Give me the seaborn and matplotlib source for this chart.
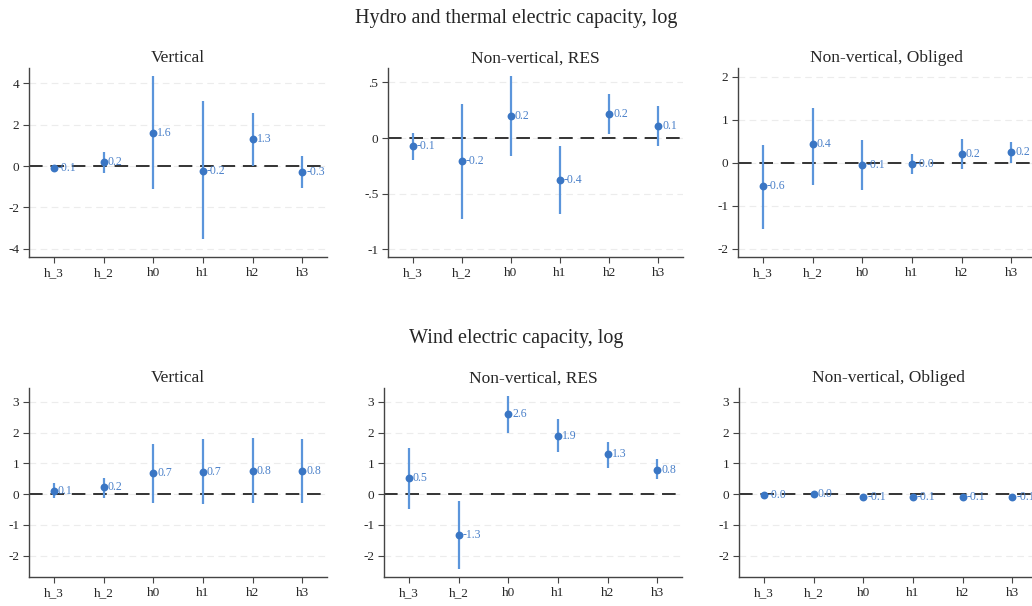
import matplotlib
matplotlib.use("Agg")
import matplotlib.pyplot as plt
import seaborn as sns
import pandas as pd

sns.set_theme(style="white")
plt.rcParams['font.family'] = ['Liberation Serif', 'DejaVu Serif']

# horizons on the x axis
horizons = ["h_3", "h_2", "h0", "h1", "h2", "h3"]

# Hydro and thermal electric capacity, log
hydro_vert_coef = [-0.10, 0.20, 1.62, -0.22, 1.30, -0.29]
hydro_vert_lo = [-0.25, -0.32, -1.10, -3.55, 0.02, -1.05]
hydro_vert_hi = [0.05, 0.69, 4.35, 3.13, 2.58, 0.50]
hydro_vert_lbl = ["-0.1", "0.2", "1.6", "-0.2", "1.3", "-0.3"]

hydro_res_coef = [-0.075, -0.21, 0.198, -0.374, 0.216, 0.108]
hydro_res_lo = [-0.195, -0.725, -0.159, -0.68, 0.033, -0.075]
hydro_res_hi = [0.045, 0.305, 0.554, -0.069, 0.398, 0.287]
hydro_res_lbl = ["-0.1", "-0.2", "0.2", "-0.4", "0.2", "0.1"]

hydro_obl_coef = [-0.55, 0.44, -0.05, -0.03, 0.21, 0.24]
hydro_obl_lo = [-1.53, -0.51, -0.64, -0.27, -0.15, 0.0]
hydro_obl_hi = [0.42, 1.27, 0.53, 0.21, 0.56, 0.49]
hydro_obl_lbl = ["-0.6", "0.4", "-0.1", "-0.0", "0.2", "0.2"]

# Wind electric capacity, log
wind_vert_coef = [0.12, 0.22, 0.68, 0.73, 0.76, 0.76]
wind_vert_lo = [-0.12, -0.12, -0.28, -0.31, -0.30, -0.28]
wind_vert_hi = [0.35, 0.53, 1.64, 1.78, 1.82, 1.78]
wind_vert_lbl = ["0.1", "0.2", "0.7", "0.7", "0.8", "0.8"]

wind_res_coef = [0.51, -1.32, 2.59, 1.90, 1.29, 0.80]
wind_res_lo = [-0.49, -2.43, 2.00, 1.37, 0.86, 0.48]
wind_res_hi = [1.51, -0.22, 3.19, 2.43, 1.71, 1.13]
wind_res_lbl = ["0.5", "-1.3", "2.6", "1.9", "1.3", "0.8"]

wind_obl_coef = [-0.01, 0.02, -0.10, -0.10, -0.09, -0.09]
wind_obl_lo = [-0.04, -0.01, -0.15, -0.15, -0.14, -0.13]
wind_obl_hi = [0.02, 0.05, -0.05, -0.05, -0.04, -0.05]
wind_obl_lbl = ["-0.0", "0.0", "-0.1", "-0.1", "-0.1", "-0.1"]

point_color = '#3a76c4'
ci_color = '#5b95db'
W, H = 1032, 606


def draw_panel(fig, rect, title, coef, lo, hi, lbl, yticks, ytlabels, ylim):
    ax = fig.add_axes(rect)
    df = pd.DataFrame({"pos": range(len(horizons)), "coef": coef, "lo": lo, "hi": hi})
    for yt in yticks:
        ax.axhline(yt, color='#ececec', lw=0.8, ls=(0, (6, 4)), zorder=0)
    ax.axhline(0, color='#333333', lw=1.4, ls=(0, (7, 4)), zorder=1)
    ax.vlines(df["pos"], df["lo"], df["hi"], color=ci_color, lw=1.6, zorder=2)
    sns.scatterplot(data=df, x="pos", y="coef", ax=ax, color=point_color,
                    s=32, edgecolor=point_color, linewidth=0, zorder=3)
    for i, t in enumerate(lbl):
        ax.text(i + 0.08, coef[i], t, color='#4a80c9', fontsize=8.5,
                va='center', ha='left', zorder=4)
    ax.set_xlim(-0.5, 5.5)
    ax.set_ylim(*ylim)
    ax.set_xticks(range(len(horizons)))
    ax.set_xticklabels(horizons)
    ax.set_yticks(yticks)
    ax.set_yticklabels(ytlabels)
    ax.set_xlabel("")
    ax.set_ylabel("")
    ax.set_title(title, fontsize=12.5, pad=4)
    for s in ["top", "right"]:
        ax.spines[s].set_visible(False)
    for s in ["left", "bottom"]:
        ax.spines[s].set_color('#444444')
        ax.spines[s].set_linewidth(1.0)
    ax.tick_params(axis='both', which='both', direction='out', length=4,
                   width=0.8, color='#444444', labelsize=9.5, pad=3,
                   left=True, bottom=True)
    return ax


fig = plt.figure(figsize=(W / 100, H / 100), dpi=100)

top_b = 1 - 257 / H
bot_b = 1 - 577 / H
ph = 189 / H
pw = 298 / W

fig.text(0.5, 1 - 18 / H, "Hydro and thermal electric capacity, log", ha='center', va='center', fontsize=14.5)
fig.text(0.5, 1 - 338 / H, "Wind electric capacity, log", ha='center', va='center', fontsize=14.5)

draw_panel(fig, [29 / W, top_b, pw, ph], "Vertical",
           hydro_vert_coef, hydro_vert_lo, hydro_vert_hi, hydro_vert_lbl,
           [-4, -2, 0, 2, 4], ["-4", "-2", "0", "2", "4"], (-4.4, 4.75))
draw_panel(fig, [388 / W, top_b, 295 / W, ph], "Non-vertical, RES",
           hydro_res_coef, hydro_res_lo, hydro_res_hi, hydro_res_lbl,
           [-1, -0.5, 0, 0.5], ["-1", "-.5", "0", ".5"], (-1.07, 0.63))
draw_panel(fig, [738 / W, top_b, pw, ph], "Non-vertical, Obliged",
           hydro_obl_coef, hydro_obl_lo, hydro_obl_hi, hydro_obl_lbl,
           [-2, -1, 0, 1, 2], ["-2", "-1", "0", "1", "2"], (-2.19, 2.2))

wt = [-2, -1, 0, 1, 2, 3]
wl = ["-2", "-1", "0", "1", "2", "3"]
draw_panel(fig, [29 / W, bot_b, pw, ph], "Vertical",
           wind_vert_coef, wind_vert_lo, wind_vert_hi, wind_vert_lbl, wt, wl, (-2.69, 3.45))
draw_panel(fig, [384 / W, bot_b, pw, ph], "Non-vertical, RES",
           wind_res_coef, wind_res_lo, wind_res_hi, wind_res_lbl, wt, wl, (-2.69, 3.45))
draw_panel(fig, [739 / W, bot_b, pw, ph], "Non-vertical, Obliged",
           wind_obl_coef, wind_obl_lo, wind_obl_hi, wind_obl_lbl, wt, wl, (-2.69, 3.45))

fig.savefig("out.png", dpi=100, facecolor='white')
